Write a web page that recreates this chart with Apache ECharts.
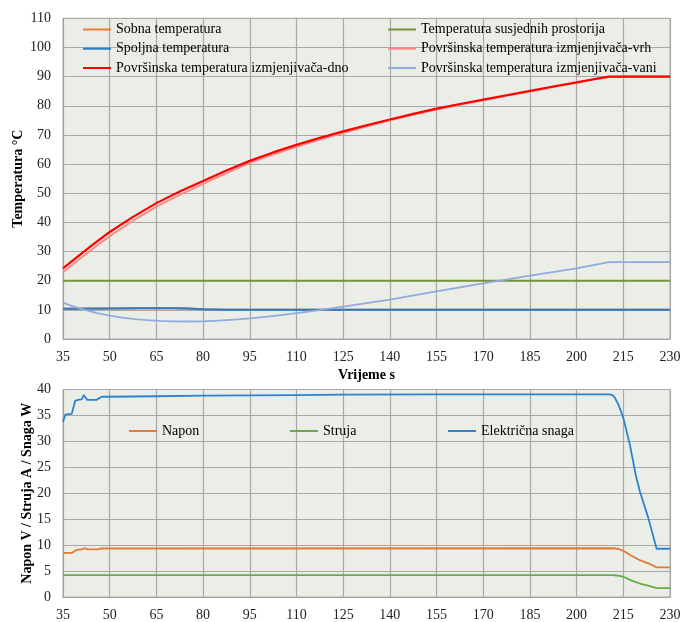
<!DOCTYPE html>
<html>
<head>
<meta charset="utf-8">
<script src="https://cdn.jsdelivr.net/npm/echarts@6/dist/echarts.min.js"></script>
<style>
html,body{margin:0;padding:0;background:#fff;}
#c{width:681px;height:622px;}
</style>
</head>
<body>
<div id="c"></div>
<script>
// ---------- Top chart data (Temperatura °C vs Vrijeme s) ----------
const tSobna = [35, 50, 60, 65, 70, 75, 80, 87, 95, 110, 230];
const sobna = [10.35, 10.45, 10.52, 10.55, 10.55, 10.45, 10.2, 10.05, 10.0, 10.0, 10.0];

const tSusjedni = [35, 230];
const susjedni = [20, 20];

const tSpoljna = [35, 50, 60, 65, 70, 75, 80, 87, 95, 110, 230];
const spoljna = [10.35, 10.45, 10.52, 10.55, 10.55, 10.45, 10.2, 10.05, 10.0, 10.0, 10.0];

const tVrh = [35, 40, 45, 50, 57.5, 65, 72.5, 80, 87.5, 95, 102.5, 110, 117.5, 125, 132.5, 140, 147.5, 155, 162.5, 170, 177.5, 185, 192.5, 200, 205, 210.3, 215, 230];
const vrh = [22.9, 27.2, 31.3, 35.3, 40.6, 45.4, 49.4, 53.2, 56.9, 60.4, 63.3, 65.9, 68.4, 70.7, 72.9, 75.0, 76.9, 78.7, 80.3, 81.9, 83.4, 84.9, 86.4, 87.9, 88.9, 89.9, 90.0, 90.0];

const tDno = [35, 40, 45, 50, 57.5, 65, 72.5, 80, 87.5, 95, 102.5, 110, 117.5, 125, 132.5, 140, 147.5, 155, 162.5, 170, 177.5, 185, 192.5, 200, 205, 210.3, 215, 230];
const dno = [24.2, 28.5, 32.7, 36.7, 41.9, 46.6, 50.6, 54.2, 57.8, 61.1, 64.0, 66.6, 69.0, 71.2, 73.3, 75.3, 77.2, 79.0, 80.6, 82.1, 83.6, 85.1, 86.6, 88.0, 89.0, 90.0, 90.0, 90.0];

const tVani = [35, 38, 42, 46, 50, 54, 58, 62, 66, 70, 75, 80, 85, 90, 95, 100, 105, 110, 115, 120, 125, 140, 155, 170, 185, 200, 210.4, 215, 230];
const vani = [12.5, 11.3, 10.0, 8.9, 8.0, 7.3, 6.8, 6.45, 6.2, 6.05, 6.0, 6.05, 6.3, 6.65, 7.1, 7.6, 8.2, 8.85, 9.55, 10.3, 11.1, 13.5, 16.3, 19.1, 21.7, 24.2, 26.4, 26.4, 26.4];

// ---------- Bottom chart data (Napon V / Struja A / Snaga W) ----------
const tNapon = [35, 37.8, 39.4, 41, 42, 43, 46, 47.4, 211.7, 213.5, 215, 217.5, 220.3, 223, 225.7, 230];
const napon = [8.5, 8.5, 9.1, 9.2, 9.4, 9.2, 9.2, 9.35, 9.4, 9.25, 8.9, 8.0, 7.1, 6.5, 5.7, 5.7];

const tStruja = [35, 211.7, 213.5, 215, 217.5, 220.3, 223, 225.7, 230];
const struja = [4.2, 4.2, 4.1, 3.9, 3.2, 2.6, 2.2, 1.7, 1.7];

const tSnaga = [35, 35.8, 37.8, 38.9, 39.8, 41, 41.7, 42.8, 45.8, 47.4, 50, 65, 80, 110, 125, 155, 210.7, 211.6, 212.3, 213.5, 215, 217.1, 219, 220.3, 223, 225.7, 230];
const snaga = [33.8, 35.2, 35.3, 37.8, 38.0, 38.1, 38.9, 38.0, 38.0, 38.6, 38.6, 38.7, 38.8, 38.9, 39.0, 39.05, 39.05, 38.85, 38.4, 37.0, 34.5, 29.4, 23.5, 20.4, 15.3, 9.3, 9.3];

// ---------- Axis settings ----------
const xMin = 35, xMax = 230, xStep = 15;
const topYMin = 0, topYMax = 110, topYStep = 10;
const botYMin = 0, botYMax = 40, botYStep = 5;

const pairs = (t, v) => t.map((x, i) => [x, v[i]]);

const FONT = 'Liberation Serif';
const gridColor = '#a8a8a8';
const bg = '#eaeee7';

function xAxis(gridIndex, name) {
  return {
    type: 'value', gridIndex, min: xMin, max: xMax, interval: xStep,
    name: name || '', nameLocation: 'middle', nameGap: 29, nameMoveOverlap: false,
    nameTextStyle: {fontFamily: FONT, fontWeight: 'bold', fontSize: 14, color: '#000'},
    axisLine: {show: true, lineStyle: {color: '#a0a0a0', width: 1}},
    axisTick: {show: false},
    axisLabel: {fontFamily: FONT, fontSize: 14, color: '#222', margin: 11},
    splitLine: {show: true, lineStyle: {color: gridColor, width: 1.2}}
  };
}
function yAxis(gridIndex, min, max, step, name, gap) {
  return {
    type: 'value', gridIndex, min, max, interval: step,
    name, nameLocation: 'middle', nameGap: gap, nameRotate: 90, nameMoveOverlap: false,
    nameTextStyle: {fontFamily: FONT, fontWeight: 'bold', fontSize: 14, color: '#000'},
    axisLine: {show: true, lineStyle: {color: '#a0a0a0', width: 1}},
    axisTick: {show: false},
    axisLabel: {fontFamily: FONT, fontSize: 14, color: '#222', margin: 12},
    splitLine: {show: true, lineStyle: {color: gridColor, width: 1.2}}
  };
}

function line(name, t, v, color, width, xi) {
  return {
    name, type: 'line', xAxisIndex: xi, yAxisIndex: xi,
    data: pairs(t, v), showSymbol: false, symbol: 'none', smooth: false,
    color, lineStyle: {color, width, join: 'round'}, animation: false
  };
}

function legend(name, left, cy) {
  return {
    data: [name], left, top: cy - 8, icon: 'rect', itemWidth: 28, itemHeight: 2,
    textStyle: {fontFamily: FONT, fontSize: 14, color: '#000', lineHeight: 16},
    selectedMode: false, padding: 0
  };
}

const chart = echarts.init(document.getElementById('c'), null, {renderer: 'canvas'});
chart.setOption({
  animation: false,
  backgroundColor: '#fff',
  grid: [
    {left: 63, right: 11, top: 18.3, height: 320.7, show: true, backgroundColor: bg, borderColor: '#b0b0b0', borderWidth: 1, containLabel: false, outerBoundsMode: 'none'},
    {left: 63, right: 11, top: 389.5, height: 207.5, show: true, backgroundColor: bg, borderColor: '#b0b0b0', borderWidth: 1, containLabel: false, outerBoundsMode: 'none'}
  ],
  xAxis: [xAxis(0, 'Vrijeme s'), xAxis(1)],
  yAxis: [
    yAxis(0, topYMin, topYMax, topYStep, 'Temperatura °C', 38),
    yAxis(1, botYMin, botYMax, botYStep, 'Napon V / Struja A / Snaga W', 29)
  ],
  legend: [
    legend('Sobna temperatura', 83, 29.5),
    legend('Spoljna temperatura', 83, 48.7),
    legend('Površinska temperatura izmjenjivača-dno', 83, 68),
    legend('Temperatura susjednih prostorija', 388, 29.5),
    legend('Površinska temperatura izmjenjivača-vrh', 388, 48.7),
    legend('Površinska temperatura izmjenjivača-vani', 388, 68),
    legend('Napon', 129, 431),
    legend('Struja', 290, 431),
    legend('Električna snaga', 448, 431)
  ],
  series: [
    line('Sobna temperatura', tSobna, sobna, '#ED7D31', 2, 0),
    line('Temperatura susjednih prostorija', tSusjedni, susjedni, '#76923C', 2, 0),
    line('Spoljna temperatura', tSpoljna, spoljna, '#2E7BC4', 2, 0),
    line('Površinska temperatura izmjenjivača-vrh', tVrh, vrh, '#FF8A8A', 2, 0),
    line('Površinska temperatura izmjenjivača-dno', tDno, dno, '#FF0000', 2.2, 0),
    line('Površinska temperatura izmjenjivača-vani', tVani, vani, '#91AADF', 1.8, 0),
    line('Napon', tNapon, napon, '#E07B3A', 1.8, 1),
    line('Struja', tStruja, struja, '#6AAB45', 1.8, 1),
    line('Električna snaga', tSnaga, snaga, '#2E82CF', 1.8, 1)
  ]
});
</script>
</body>
</html>
